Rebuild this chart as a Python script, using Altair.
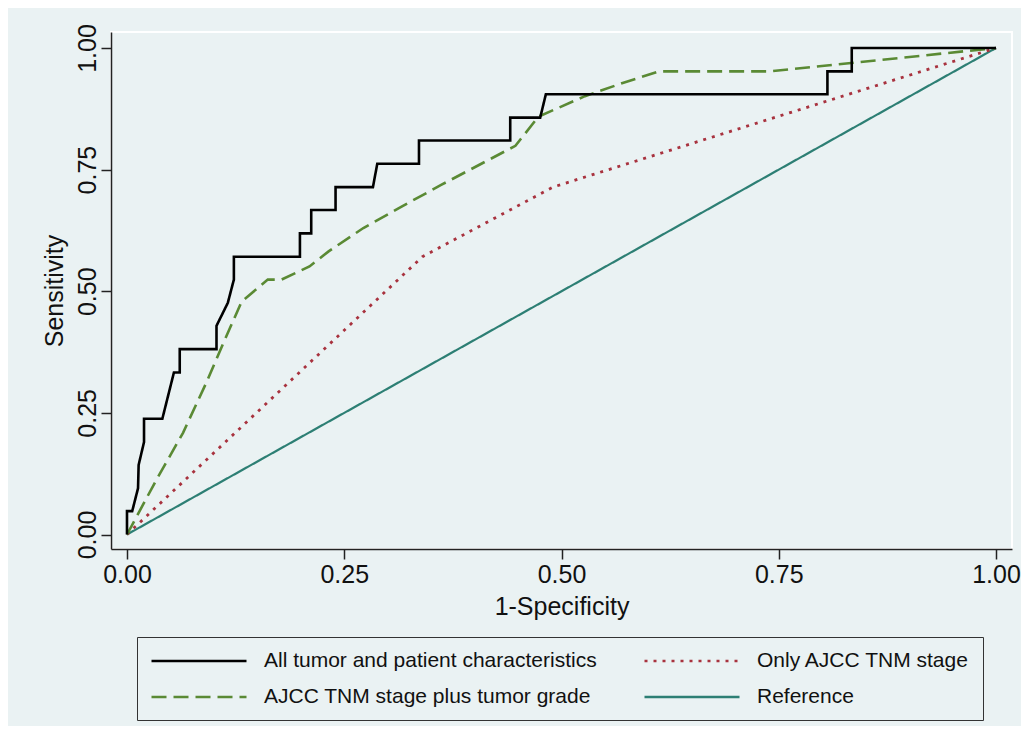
import altair as alt
import pandas as pd

# ---- data ----
# legend order (column-major in the legend grid)
series_names = [
    "All tumor and patient characteristics",
    "AJCC TNM stage plus tumor grade",
    "Only AJCC TNM stage",
    "Reference",
]

all_x = [0, 0, 0.006, 0.0127, 0.0134, 0.0196, 0.0196, 0.0407, 0.054, 0.0607, 0.0607,
         0.103, 0.103, 0.116, 0.123, 0.123, 0.199, 0.199, 0.212, 0.212, 0.240, 0.240,
         0.283, 0.288, 0.336, 0.336, 0.441, 0.441, 0.4755, 0.482, 0.806, 0.806, 0.834,
         0.834, 1.0]
all_y = [0, 0.048, 0.048, 0.095, 0.143, 0.190, 0.238, 0.238, 0.333, 0.333, 0.381,
         0.381, 0.429, 0.476, 0.524, 0.571, 0.571, 0.619, 0.619, 0.667, 0.667, 0.714,
         0.714, 0.762, 0.762, 0.810, 0.810, 0.857, 0.857, 0.905, 0.905, 0.952, 0.952,
         1.0, 1.0]

grade_x = [0, 0.034, 0.0645, 0.091, 0.111, 0.132, 0.162, 0.178, 0.21, 0.232, 0.272,
           0.316, 0.362, 0.447, 0.4735, 0.527, 0.5695, 0.612, 0.74, 1.0]
grade_y = [0, 0.113, 0.209, 0.311, 0.394, 0.479, 0.524, 0.524, 0.551, 0.582, 0.630,
           0.674, 0.719, 0.799, 0.859, 0.901, 0.9275, 0.952, 0.952, 1.0]

stage_x = [0, 0.34, 0.49, 1.0]
stage_y = [0, 0.571, 0.714, 1.0]

ref_x = [0, 1.0]
ref_y = [0, 1.0]

tick_values = [0, 0.25, 0.5, 0.75, 1.0]

series_colors = ["#000000", "#5A8A34", "#A8323E", "#2D7F74"]
series_dashes = [[1, 0], [15, 7], [3, 6], [1, 0]]

rows = []
for name, xs, ys in [
    (series_names[0], all_x, all_y),
    (series_names[1], grade_x, grade_y),
    (series_names[2], stage_x, stage_y),
    (series_names[3], ref_x, ref_y),
]:
    for i, (xv, yv) in enumerate(zip(xs, ys)):
        rows.append({"series": name, "x": xv, "y": yv, "order": i})
df = pd.DataFrame(rows)

BG = "#EAF2F3"
FONT = "Liberation Sans"

x_enc = alt.X(
    "x:Q",
    scale=alt.Scale(domain=[-0.0184, 1.0184], nice=False, zero=False),
    axis=alt.Axis(values=tick_values, format=".2f", title="1-Specificity",
                  titleY=57, titleBaseline="middle", labelPadding=3),
)
y_enc = alt.Y(
    "y:Q",
    scale=alt.Scale(domain=[-0.0298, 1.0329], nice=False, zero=False),
    axis=alt.Axis(values=tick_values, format=".2f", title="Sensitivity",
                  labelAngle=270, labelAlign="center", labelBaseline="bottom",
                  labelPadding=1, titleX=-57, titleBaseline="middle"),
)
color_enc = alt.Color(
    "series:N",
    scale=alt.Scale(domain=series_names, range=series_colors),
    legend=alt.Legend(
        title=None, orient="none", legendX=26, legendY=605, columns=2,
        symbolType="M-1,0H9", symbolSize=361, symbolStrokeWidth=2.5,
        labelFont=FONT, labelFontSize=21, labelColor="#111", labelOffset=92,
        rowPadding=15, columnPadding=42, padding=13,
        strokeColor="#333", fillColor=BG, labelLimit=600,
    ),
)
dash_enc = alt.StrokeDash(
    "series:N",
    scale=alt.Scale(domain=series_names, range=series_dashes),
    legend=None,
)

layers = []
for name, width in [(series_names[3], 2.2), (series_names[2], 2.8),
                    (series_names[1], 2.6), (series_names[0], 2.6)]:
    layers.append(
        alt.Chart(df)
        .transform_filter(alt.datum.series == name)
        .mark_line(strokeWidth=width, clip=True)
        .encode(x=x_enc, y=y_enc, color=color_enc, strokeDash=dash_enc,
                order="order:Q")
    )

chart = (
    alt.layer(*layers)
    .properties(width=901, height=517, background=BG,
                padding={"left": 34, "top": 15, "right": 0, "bottom": 5})
    .configure_view(fill=BG, stroke="white", strokeWidth=2)
    .configure_axis(
        grid=False, domainColor="#222", domainWidth=1.5, tickColor="#222",
        tickWidth=1.5, tickSize=10, labelFont=FONT, labelFontSize=25,
        labelColor="#111", titleFont=FONT, titleFontSize=25,
        titleFontWeight="normal", titleColor="#111",
    )
)

chart.save("out.html", embed_options={"renderer": "svg", "actions": False})
